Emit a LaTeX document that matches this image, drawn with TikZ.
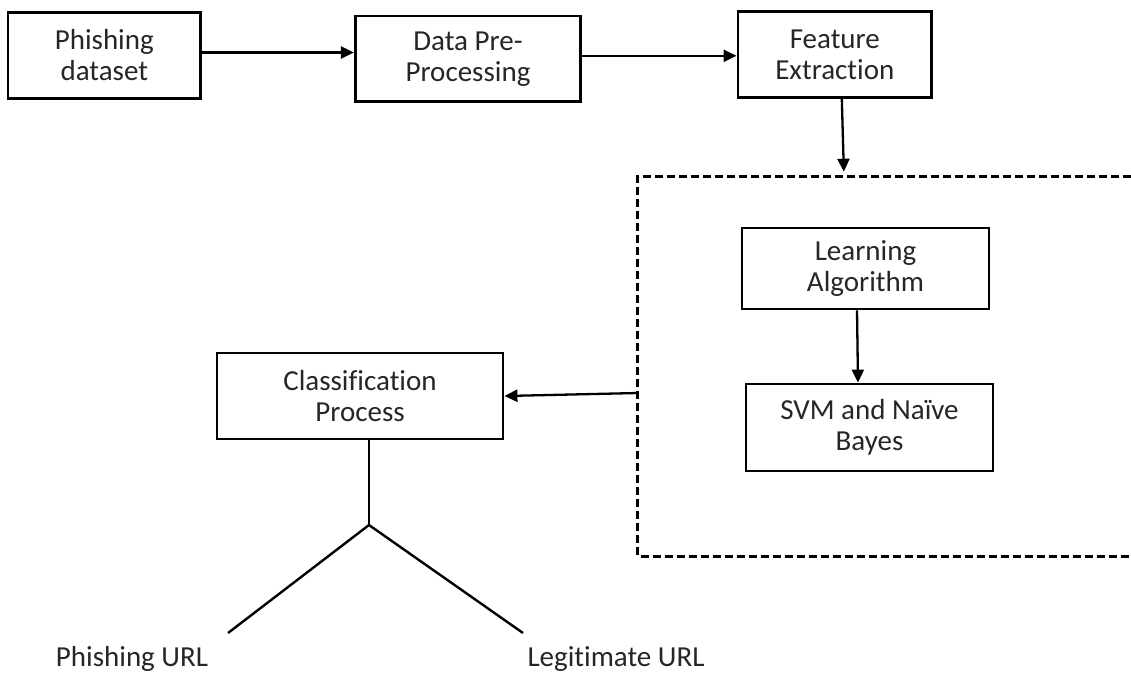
\documentclass[tikz,border=0pt]{standalone}
\usepackage{fontspec}
\setmainfont{Carlito}[Ligatures=NoCommon]
\usetikzlibrary{arrows.meta}
\begin{document}
\begin{tikzpicture}[x=1pt,y=-1pt,
  box/.style={draw=black, line width=2.8pt, align=center, inner sep=0pt,
    font=\fontsize{29}{31}\selectfont, text=black!85},
  arr/.style={line width=2.3pt, -{Triangle[length=13pt,width=12pt]}},
  link/.style={line width=2.4pt},
  frame/.style={line width=2.5pt, dash pattern=on 8pt off 4pt},
  lbl/.style={font=\fontsize{29}{31}\selectfont, text=black!85, inner sep=0pt}]
\useasboundingbox (0,0) rectangle (1131,673);

% pipeline boxes
\node[box, minimum width=192.7pt, minimum height=85.6pt] (data) at (104.3,55.5) {Phishing\\dataset};
\node[box, minimum width=225.4pt, minimum height=85.7pt] (prep) at (468,58.8) {Data Pre-\\Processing};
\node[box, minimum width=193.7pt, minimum height=85.6pt] (feat) at (834.8,54.5) {Feature\\Extraction};

% dashed model region, open to the right
\coordinate (fr-tr) at (1131,176.7);
\coordinate (fr-tl) at (637.7,176.7);
\coordinate (fr-bl) at (637.7,556.5);
\coordinate (fr-br) at (1131,556.5);
\draw[frame] (fr-tr) -- (fr-tl) -- (fr-bl) -- (fr-br);
\coordinate (fr-in) at (844,176.7);
\coordinate (fr-out) at (637.7,393);

\node[box, minimum width=247pt, minimum height=81pt] (learn) at (865.5,268.5) {Learning\\Algorithm};
\node[box, minimum width=247pt, minimum height=87pt] (svm) at (869.5,427.5) {SVM and Naïve\\Bayes};

\node[box, minimum width=286pt, minimum height=86pt] (cls) at (360,396) {Classification\\Process};

% connectors
\draw[arr] ([yshift=3pt]data.east) -- ([yshift=3pt]data.east -| prep.west);
\draw[arr] ([yshift=3pt]prep.east) -- ([yshift=3pt]prep.east -| feat.west);
\draw[arr, shorten >=5pt] ([xshift=7pt]feat.south) -- (fr-in);
\draw[arr] ([xshift=-8.5pt]learn.south) -- ([xshift=-11.5pt]svm.north);
\draw[arr] (fr-out) -- (cls.east);

% split into the two outcomes
\coordinate (fork) at (369,525);
\coordinate (leftend) at (228,633);
\coordinate (rightend) at (523,633);
\draw[link] ([xshift=9pt]cls.south) -- (fork);
\draw[link] (leftend) -- (fork) -- (rightend);

\node[lbl] (phish) at (132,659) {Phishing URL};
\node[lbl] (legit) at (616,659) {Legitimate URL};
\end{tikzpicture}
\end{document}
